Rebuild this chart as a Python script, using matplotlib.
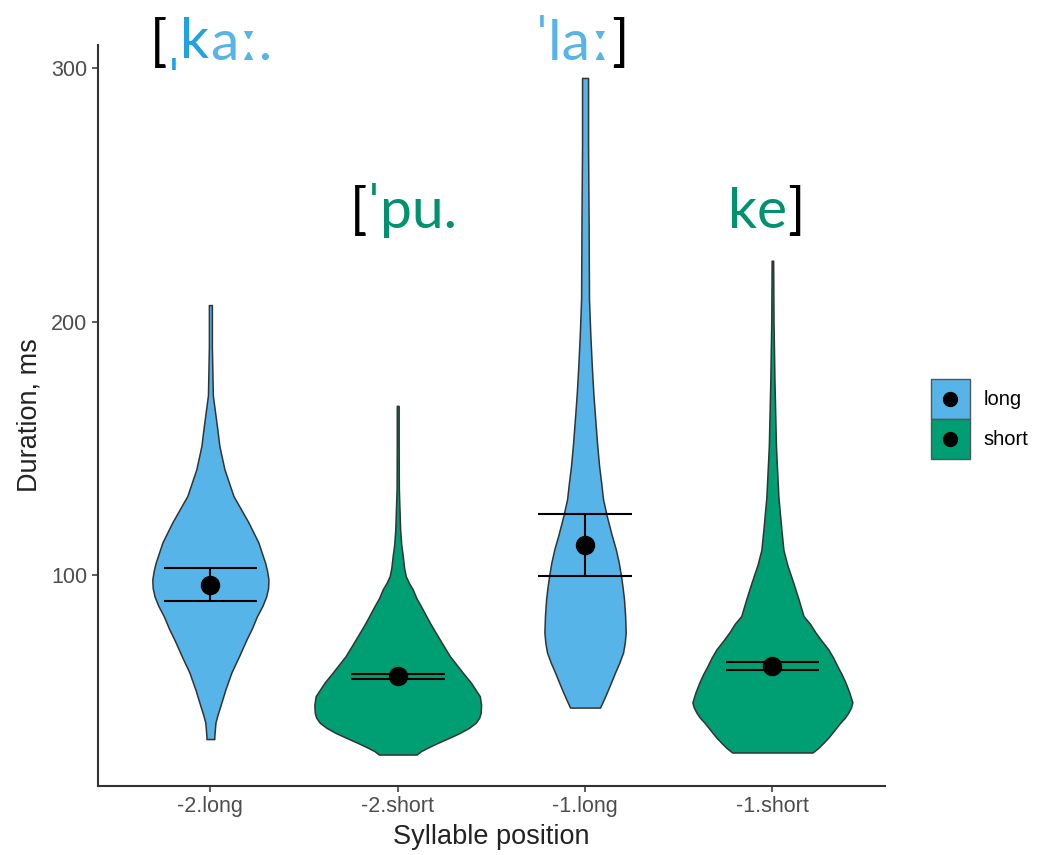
import matplotlib
matplotlib.use("Agg")
import matplotlib.pyplot as plt
from matplotlib.patches import Patch
from matplotlib.lines import Line2D
from matplotlib.legend_handler import HandlerLine2D
import numpy as np

plt.rcParams['font.family'] = ['Liberation Sans', 'DejaVu Sans']

categories = ['-2.long', '-2.short', '-1.long', '-1.short']
lengths = ['long', 'short', 'long', 'short']

# violin outlines: duration (ms) and half width (category units)
v1_dur = [206.5, 190, 171, 157.6, 151, 141.8, 131.3, 120.9, 113, 109, 105, 102, 98.4, 95, 91.7,
          88, 83.8, 79, 74.8, 68, 61.7, 55, 48.5, 45, 42, 36.5, 35.5]
v1_hw = [0.008, 0.008, 0.013, 0.037, 0.048, 0.075, 0.123, 0.203, 0.256, 0.274, 0.292, 0.302, 0.310, 0.308, 0.298,
         0.278, 0.248, 0.221, 0.193, 0.152, 0.112, 0.080, 0.053, 0.038, 0.027, 0.021, 0.021]

v2_dur = [166.8, 150, 134, 118, 112, 107.6, 103, 99.7, 97, 94.5, 91, 88, 84.7, 81.4, 78, 74.8, 71.5, 68.2,
          65, 61.7, 57.8, 55, 52.4, 49, 45.9, 43.9, 41.9, 39.9, 37.9, 36, 34, 32.3, 30.7, 29.4]
v2_hw = [0.005, 0.005, 0.006, 0.013, 0.019, 0.027, 0.034, 0.043, 0.060, 0.080, 0.100, 0.123, 0.147, 0.171, 0.198, 0.224, 0.251, 0.278,
         0.312, 0.347, 0.390, 0.415, 0.438, 0.445, 0.443, 0.435, 0.416, 0.380, 0.331, 0.275, 0.214, 0.165, 0.123, 0.101]

v3_dur = [296, 270, 240, 209, 195, 182.6, 172, 162.8, 152, 143.1, 136.5, 130, 123.4, 116.5, 110.3, 105, 99.7,
          95, 90.5, 84, 77.5, 73.5, 69.6, 65.6, 61.7, 57.7, 53.8, 50.8, 47.9]
v3_hw = [0.016, 0.016, 0.019, 0.021, 0.028, 0.036, 0.044, 0.053, 0.064, 0.075, 0.086, 0.096, 0.116, 0.140, 0.164, 0.180, 0.192,
         0.201, 0.208, 0.214, 0.217, 0.212, 0.203, 0.183, 0.160, 0.138, 0.116, 0.098, 0.080]

v4_dur = [224, 200, 177, 151, 131, 118, 110, 104, 97, 90.5, 84, 81, 77.5, 74, 70.8, 67.5, 64.2, 61, 57.8,
          54, 50, 48, 46, 44, 42, 38, 36, 34, 32, 30.2]
v4_hw = [0.004, 0.006, 0.011, 0.019, 0.032, 0.048, 0.059, 0.080, 0.112, 0.140, 0.166, 0.200, 0.230, 0.265, 0.299, 0.325, 0.347, 0.370, 0.390,
         0.410, 0.427, 0.420, 0.406, 0.388, 0.363, 0.320, 0.298, 0.272, 0.245, 0.214]

means = [96.4, 60.2, 111.8, 64.1]
ci_low = [89.9, 59.3, 99.7, 62.6]
ci_high = [103.0, 61.3, 124.0, 65.7]

colors = {'long': '#56B4E9', 'short': '#009E73'}


class CenteredDot(HandlerLine2D):
    # put the legend dot in the middle of the key box
    def create_artists(self, legend, orig_handle, xdescent, ydescent, width, height, fontsize, trans):
        artists = super().create_artists(legend, orig_handle, xdescent, ydescent,
                                         width, height, fontsize, trans)
        for a in artists:
            a.set_ydata(np.full(len(a.get_xdata()), height / 2 - ydescent))
        return artists


fig = plt.figure(figsize=(10.38, 8.55), dpi=100)
ax = fig.add_axes([0.0944, 0.0807, 0.758, 0.8667])

violins = [(v1_dur, v1_hw), (v2_dur, v2_hw), (v3_dur, v3_hw), (v4_dur, v4_hw)]
for i, (dur, hw) in enumerate(violins):
    pos = i + 1
    dur = np.array(dur)
    hw = np.array(hw)
    ax.fill_betweenx(dur, pos - hw, pos + hw, facecolor=colors[lengths[i]],
                     edgecolor='#333333', linewidth=1.1, joinstyle='round', zorder=2)

pos = np.arange(1, 5)
ax.hlines(ci_low, pos - 0.25, pos + 0.25, color='black', lw=1.5, zorder=3)
ax.hlines(ci_high, pos - 0.25, pos + 0.25, color='black', lw=1.5, zorder=3)
ax.vlines(pos, ci_low, ci_high, color='black', lw=1.5, zorder=3)
ax.plot(pos, means, 'o', color='black', ms=13, zorder=4)

ax.set_xlim(0.4, 4.6)
ax.set_ylim(17, 309)
ax.set_xticks(pos)
ax.set_xticklabels(categories)
ax.set_yticks([100, 200, 300])
for s in ['top', 'right']:
    ax.spines[s].set_visible(False)
for s in ['left', 'bottom']:
    ax.spines[s].set_color('#333333')
    ax.spines[s].set_linewidth(1.5)
ax.tick_params(colors='#333333', labelcolor='#4D4D4D', length=4, width=1.1, labelsize=15.5)
ax.set_xlabel('Syllable position', fontsize=19.5, color='#222222', labelpad=5)
ax.set_ylabel('Duration, ms', fontsize=19.5, color='#222222', labelpad=6)

handles = [(Patch(facecolor=colors['long'], edgecolor='#555555'),
            Line2D([], [], marker='o', color='black', ls='', ms=10)),
           (Patch(facecolor=colors['short'], edgecolor='#555555'),
            Line2D([], [], marker='o', color='black', ls='', ms=10))]
fig.legend(handles, ['long', 'short'], loc='center left', bbox_to_anchor=(0.887, 0.51),
           frameon=False, fontsize=14.5, handlelength=1.95, handleheight=2.65,
           labelspacing=0, handletextpad=0.65, borderpad=0,
           handler_map={Line2D: CenteredDot()})

# IPA transcription above the violins
ipa_font = ['Lato', 'DejaVu Sans']
blue_dark = '#1FA2DF'
blue = '#56B4E9'
green = '#00916E'
groups = [
    (0.1445, 0.930, [('[', 'black'), ('ˌk', blue_dark), ('aː.', blue)]),
    (0.5150, 0.930, [('ˈlaː', blue), (']', 'black')]),
    (0.3370, 0.733, [('[', 'black'), ('ˈpu.', green)]),
    (0.7010, 0.733, [('ke', green), (']', 'black')]),
]
for x0, y0, pieces in groups:
    prev = None
    for s, c in pieces:
        if prev is None:
            prev = fig.text(x0, y0, s, color=c, fontsize=41, family=ipa_font, va='baseline')
        else:
            prev = ax.annotate(s, xy=(1, 0), xycoords=prev, color=c, fontsize=41,
                               family=ipa_font, va='bottom', ha='left', annotation_clip=False)

fig.savefig('out.png', dpi=100)
